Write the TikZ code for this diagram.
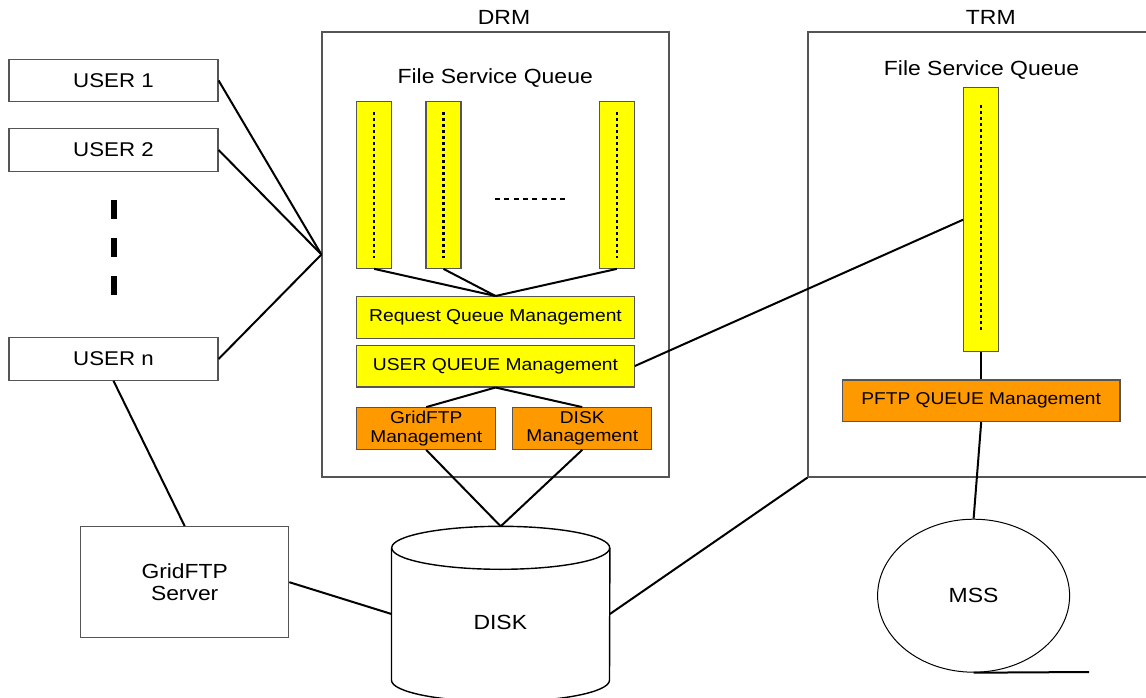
\documentclass[tikz,border=0pt]{standalone}
\usepackage{fontspec}
\setmainfont{Liberation Sans}[FakeStretch=1.12]
\usetikzlibrary{shapes.geometric}
\definecolor{qyellow}{RGB}{255,255,0}
\definecolor{qorange}{RGB}{255,153,0}
\definecolor{frame}{RGB}{85,85,85}
\newcommand{\setsize}[2]{\fontsize{#1}{#2}\selectfont}
\tikzset{
  outline/.style={draw=frame, line width=1.2pt, inner sep=0pt},
  userbox/.style={outline, minimum width=209pt, minimum height=42.5pt, font=\setsize{19.9}{22}},
  panel/.style={outline},
  qbar/.style={outline, fill=qyellow, minimum width=35pt},
  ybox/.style={outline, fill=qyellow, minimum width=277.6pt, minimum height=41.8pt, font=\setsize{17.2}{18.3}},
  obox/.style={outline, fill=qorange, minimum height=41.6pt, font=\setsize{17.1}{18.3}, align=center},
  title/.style={font=\setsize{20.5}{22}, anchor=base, inner sep=0pt},
  link/.style={draw=black, line width=2pt},
  slots/.style={line width=2.4pt, dash pattern=on 3pt off 3pt},
}
\begin{document}
\begin{tikzpicture}[x=1pt, y=-1pt]
\useasboundingbox (0,0) rectangle (1146,698);
\clip (0,0) rectangle (1146,698);
\fill[white] (0,0) rectangle (1146,698);

% users
\node[userbox] (u1) at (113.5,80.5) {USER 1};
\node[userbox] (u2) at (113.5,150) {USER 2};
\node[userbox] (un) at (113.5,359) {USER n};
\draw[line width=6pt, dash pattern=on 18.5pt off 19.5pt] (113.5,200) -- (113.5,295);

% DRM panel
\node[panel, minimum width=347pt, minimum height=445pt] (drm) at (495.5,254.5) {};
\node[title] (drmtitle) at (504,25) {DRM};
\node[title] (drmfsq) at (495.2,83.3) {File Service Queue};
\node[qbar, minimum height=166.6pt] (b1) at (374.2,185) {};
\node[qbar, minimum height=166.6pt] (b2) at (443.5,185) {};
\node[qbar, minimum height=166.6pt] (b3) at (616.8,185) {};
\foreach \b in {b1,b2,b3}
  \draw[slots] ([yshift=-11.3pt]\b.north) -- ([yshift=11.3pt]\b.south);
\draw[line width=1.8pt, dash pattern=on 5pt off 4.3pt] (495,199) -- (565,199);
\node[ybox] (rq) at (495.5,317.5) {Request Queue Management};
\node[ybox] (uq) at (495.5,366) {USER QUEUE Management};
\node[obox, minimum width=139pt] (gm) at (426.2,428.5) {GridFTP\\Management};
\node[obox, minimum width=139pt] (dm) at (582.2,428.5) {DISK\\Management};

% TRM panel (runs past the right edge)
\node[panel, minimum width=352pt, minimum height=445pt] (trm) at (984,254.5) {};
\node[title] (trmtitle) at (990.8,24.5) {TRM};
\node[title] (trmfsq) at (981.5,76) {File Service Queue};
\node[qbar, minimum height=264pt] (tb) at (981.2,219.7) {};
\draw[slots] ([yshift=-18.3pt]tb.north) -- ([yshift=20pt]tb.south);
\node[obox, minimum width=277.7pt] (pftp) at (981.2,400.8) {PFTP QUEUE Management};

% GridFTP server
\node[outline, minimum width=208pt, minimum height=111pt, align=center,
      font=\setsize{20.4}{21.7}] (srv) at (184.7,582.2) {GridFTP\\Server};

% disk cylinder
\node[minimum width=218pt, minimum height=175pt, inner sep=0pt] (disk) at (500.7,614) {};
\draw[line width=1.4pt, fill=white]
  ([yshift=-21.5pt]disk.north west) -- ([yshift=21.5pt]disk.south west)
  arc[start angle=180, end angle=360, x radius=109pt, y radius=21.5pt]
  -- ([yshift=-21.5pt]disk.north east);
\draw[line width=1.4pt] ([yshift=-21.5pt]disk.north) ellipse [x radius=109pt, y radius=21.5pt];
\node[font=\setsize{20.5}{22}, inner sep=0pt] (disktext) at (500.3,622) {DISK};

% mass storage
\node[ellipse, draw=black, line width=1pt, minimum width=192pt, minimum height=153pt,
      inner sep=0pt, font=\setsize{20.5}{22}] (mss) at (973.6,595.7) {MSS};
\coordinate (tape) at (1089,672);

% connections
\foreach \u in {u1,u2,un} \draw[link] (\u.east) -- (drm.west);
\foreach \b in {b1,b2,b3} \draw[link] (\b.south) -- (rq.north);
\draw[link] (uq.south) -- (gm.north);
\draw[link] (uq.south) -- (dm.north);
\draw[link] (gm.south) -- (disk.north);
\draw[link] (dm.south) -- (disk.north);
\draw[link] (uq.east) -- (tb.west);
\draw[link] (tb.south) -- (pftp.north);
\draw[link] (pftp.south) -- (mss.north);
\draw[link] (mss.south) -- (tape);
\draw[link] (un.south) -- (srv.north);
\draw[link] (srv.east) -- (disk.west);
\draw[link] (disk.east) -- (trm.south west);
\end{tikzpicture}
\end{document}
